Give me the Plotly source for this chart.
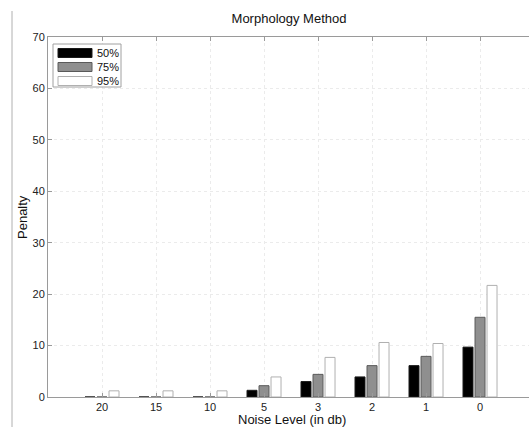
import plotly.graph_objects as go

categories = ["20", "15", "10", "5", "3", "2", "1", "0"]
series_names = ["50%", "75%", "95%"]
vals_50 = [0, 0, 0, 1.3, 3.0, 3.9, 6.1, 9.7]
vals_75 = [0, 0, 0, 2.2, 4.4, 6.1, 7.9, 15.5]
vals_95 = [1.2, 1.2, 1.2, 3.9, 7.7, 10.6, 10.4, 21.7]
y_ticks = [0, 10, 20, 30, 40, 50, 60, 70]

W, H = 529, 427
ML, MR, MT, MB = 48, 0, 37, 30
PW, PH = W - ML - MR, H - MT - MB

def px(x):
    return (x - ML) / PW

def py(y):
    return (H - MB - y) / PH

fills = ["#000000", "#8f8f8f", "#ffffff"]
lines = ["#1a1a1a", "#5a5a5a", "#b0b0b0"]

fig = go.Figure()
for name, vals, fc, lc in zip(series_names, [vals_50, vals_75, vals_95], fills, lines):
    fig.add_trace(go.Bar(x=categories, y=vals, name=name, marker=dict(color=fc, line=dict(color=lc, width=1)),
                         showlegend=False))

axis_col = "#9a9a9a"
grid_col = "#ebebeb"
fig.update_layout(
    width=W, height=H,
    margin=dict(l=ML, r=MR, t=MT, b=MB),
    paper_bgcolor="white", plot_bgcolor="white",
    barmode="group", bargap=0.333, bargroupgap=0.167,
    font=dict(family="Liberation Sans, Arial, sans-serif", size=11, color="#222"),
    title=dict(text="Morphology Method", x=289 / W, xanchor="center",
               y=1 - 18 / H, yanchor="middle", font=dict(size=13, color="#111")),
    xaxis=dict(type="category", range=[-1, 7.907], showline=True, linecolor=axis_col, linewidth=1,
               mirror="ticks", ticks="inside", ticklen=4, tickcolor=axis_col,
               showgrid=True, gridcolor=grid_col, griddash="dot", gridwidth=1, zeroline=False),
    yaxis=dict(range=[0, 70], tickvals=y_ticks, showline=True, linecolor=axis_col, linewidth=1,
               mirror=False, ticks="inside", ticklen=4, tickcolor=axis_col,
               showgrid=True, gridcolor=grid_col, griddash="dot", gridwidth=1, zeroline=False),
)

# page border line on the left
fig.add_shape(type="line", xref="paper", yref="paper", x0=px(12), x1=px(12), y0=py(11), y1=py(427),
              line=dict(color="#b0b0b0", width=1))

# axis titles
fig.add_annotation(text="Penalty", xref="paper", yref="paper", x=px(22), y=0.5, textangle=-90,
                   showarrow=False, xanchor="center", yanchor="middle", font=dict(size=13, color="#111"))
fig.add_annotation(text="Noise Level (in db)", xref="paper", yref="paper", x=px(292), y=py(419),
                   showarrow=False, xanchor="center", yanchor="middle", font=dict(size=13, color="#111"))

# legend box
fig.add_shape(type="rect", xref="paper", yref="paper", x0=px(53), x1=px(121), y0=py(44), y1=py(87),
              line=dict(color="#a0a0a0", width=1), fillcolor="white")
centers = [53, 67, 81]
for name, fc, lc, cy in zip(series_names, fills, lines, centers):
    fig.add_shape(type="rect", xref="paper", yref="paper", x0=px(58), x1=px(92), y0=py(cy - 4.5), y1=py(cy + 4.5),
                  line=dict(color=lc, width=1), fillcolor=fc)
    fig.add_annotation(text=name, xref="paper", yref="paper", x=px(95), y=py(cy), showarrow=False,
                       xanchor="left", yanchor="middle", font=dict(size=11, color="#111"))

fig.write_html("out.html")
